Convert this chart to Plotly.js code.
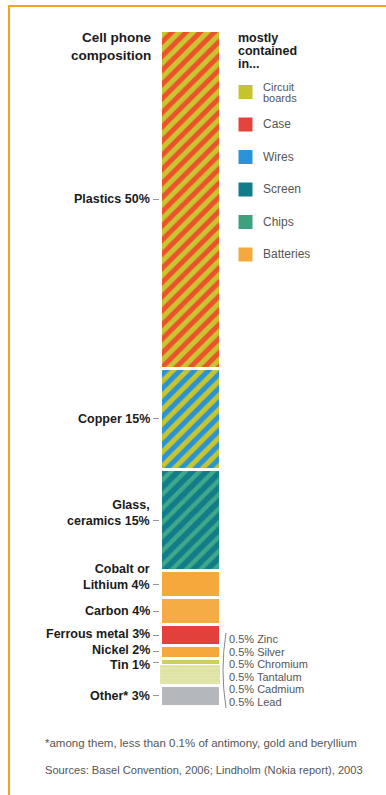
<!DOCTYPE html>
<html><head><meta charset="utf-8">
<script src="https://cdn.plot.ly/plotly-3.0.1.min.js"></script>
<style>
html,body{margin:0;padding:0;background:#fff;}
#chart{position:absolute;left:0;top:0;width:386px;height:795px;}
#frame{position:absolute;left:8px;top:5px;width:420px;height:820px;border-top:2.5px solid #f2a421;border-left:2.5px solid #f2a421;pointer-events:none;}
</style></head>
<body>
<div id="chart"></div>
<div id="frame"></div>
<script>
// ---- data ----
const segments = ['Plastics','Copper','Glass,<br>ceramics','Cobalt or<br>Lithium','Carbon','Ferrous metal','Nickel','Tin','Zinc','Silver','Chromium','Tantalum','Cadmium','Lead','Other*'];
const shares   = [50, 15, 15, 4, 4, 3, 2, 1, 0.5, 0.5, 0.5, 0.5, 0.5, 0.5, 3];
const minorMetals = ['Zinc','Silver','Chromium','Tantalum','Cadmium','Lead'];
const components = ['Circuit<br>boards','Case','Wires','Screen','Chips','Batteries'];
const titleLines = ['Cell phone','composition'];
const legendTitle = ['mostly','contained','in...'];
const footnote = '*among them, less than 0.1% of antimony, gold and beryllium';
const source = 'Sources: Basel Convention, 2006; Lindholm (Nokia report), 2003';

// ---- styles ----
const compColors = ['#c6c32f','#e3433a','#2a92d8','#107d8a','#3ca17d','#f5a93c'];
const segStyle = {
  'Plastics': {pat:['#ea532c','#c9c530',0.5]},
  'Copper': {pat:['#c6c430','#2a93d3',0.5]},
  'Glass,<br>ceramics': {pat:['#3fa88b','#127d89',0.42]},
  'Cobalt or<br>Lithium': {c:'#f5a93c'},
  'Carbon': {c:'#f6ac44'},
  'Ferrous metal': {c:'#e2413b', dy: 1},
  'Nickel': {c:'#f5a93c', dy: 2},
  'Tin': {c:'#cdd05a', dy: -3},
  'Other*': {c:'#b4b8bd'}
};
const metalColor = '#dfe3a4';

// pixel helpers (plot area: x 160..220, y 30..706)
const L=160, R=220, T=30, B=706;
const px = v => (v - L) / (R - L);
const py = v => (B - v) / (B - T);

const traces = [];
const centers = [];
let cum = 0;
segments.forEach((name, i) => {
  const v = shares[i];
  centers.push(cum + v / 2);
  cum += v;
  const isMetal = minorMetals.includes(name);
  const st = segStyle[name] || {};
  const marker = {line: {color: isMetal ? '#e8ebbf' : '#ffffff', width: isMetal ? 0.4 : 3}};
  if (st.pat) {
    marker.color = st.pat[1];
    marker.pattern = {shape: '/', fgcolor: st.pat[0], bgcolor: st.pat[1], size: 10, solidity: st.pat[2], fillmode: 'replace'};
  } else {
    marker.color = isMetal ? metalColor : st.c;
  }
  traces.push({type: 'bar', x: ['phone'], y: [v], width: [1], name: name, marker: marker, showlegend: false, hoverinfo: 'skip'});
});

const annotations = [];
const FAM = 'Liberation Sans, Arial, sans-serif';
const labelFont = {family: FAM, size: 12.5, color: '#1a1a1a'};
// left labels
segments.forEach((name, i) => {
  if (minorMetals.includes(name)) return;
  const multi = name.includes('<br>');
  const st = segStyle[name] || {};
  annotations.push({xref: 'paper', yref: 'y', x: 0, y: centers[i], xanchor: 'right', yanchor: 'middle',
    xshift: -8, yshift: (multi ? 7 : 0) + (st.dy || 0), align: 'right', showarrow: false,
    text: '<b>' + name + ' ' + shares[i] + '%</b>', font: labelFont});
});
// chart title
titleLines.forEach((t, k) => {
  annotations.push({xref: 'paper', yref: 'paper', x: px(153), y: py(38 + k * 17), xanchor: 'right', yanchor: 'middle',
    showarrow: false, text: '<b>' + t + '</b>', font: {family: FAM, size: 13.5, color: '#1a1a1a'}});
});
// legend title
legendTitle.forEach((t, k) => {
  annotations.push({xref: 'paper', yref: 'paper', x: px(236), y: py(38 + k * 13), xanchor: 'left', yanchor: 'middle',
    showarrow: false, text: '<b>' + t + '</b>', font: {family: FAM, size: 12.5, color: '#1a1a1a'}});
});
// legend items
const shapes = [];
components.forEach((c, k) => {
  const cy = 92 + k * 32.5;
  shapes.push({type: 'rect', xref: 'paper', yref: 'paper', x0: px(238.5), x1: px(252.5), y0: py(cy - 7), y1: py(cy + 7),
    fillcolor: compColors[k], line: {width: 0}});
  const parts = c.split('<br>');
  parts.forEach((p, j) => {
    const off = parts.length > 1 ? (j === 0 ? -5 : 6) : 0;
    annotations.push({xref: 'paper', yref: 'paper', x: px(261), y: py(cy + off), xanchor: 'left', yanchor: 'middle',
      showarrow: false, text: p, font: {family: FAM, size: parts.length > 1 ? 11 : 12, color: '#555'}});
  });
});
// minor metals labels
minorMetals.forEach((m, k) => {
  const v = shares[segments.indexOf(m)];
  annotations.push({xref: 'paper', yref: 'paper', x: px(227), y: py(639 + k * 12.5), xanchor: 'left', yanchor: 'middle',
    showarrow: false, text: v + '% ' + m, font: {family: FAM, size: 11, color: '#555'}});
});
// bracket
shapes.push({type: 'path', xref: 'paper', yref: 'paper',
  path: 'M ' + px(226) + ' ' + py(633) + ' Q ' + px(220) + ' ' + py(670) + ' ' + px(226) + ' ' + py(708),
  line: {color: '#888', width: 1}});
// footnotes
annotations.push({xref: 'paper', yref: 'paper', x: px(43), y: py(743), xanchor: 'left', yanchor: 'middle',
  showarrow: false, text: footnote, font: {family: FAM, size: 11.5, color: '#555'}});
annotations.push({xref: 'paper', yref: 'paper', x: px(43), y: py(770), xanchor: 'left', yanchor: 'middle',
  showarrow: false, text: source, font: {family: FAM, size: 11.1, color: '#555'}});

const layout = {
  width: 386, height: 795,
  margin: {l: L, r: 386 - R, t: T, b: 795 - B, pad: 0},
  paper_bgcolor: 'rgba(0,0,0,0)', plot_bgcolor: 'rgba(0,0,0,0)',
  barmode: 'stack', bargap: 0,
  showlegend: false,
  xaxis: {range: [-0.5, 0.5], visible: false, fixedrange: true},
  yaxis: {range: [100, 0], showgrid: false, zeroline: false, showline: false,
    tickmode: 'array', tickvals: centers.filter((c, i) => !minorMetals.includes(segments[i])),
    ticks: 'outside', ticklen: 6, tickwidth: 1, tickcolor: '#999', showticklabels: false},
  annotations: annotations,
  shapes: shapes
};
Plotly.newPlot('chart', traces, layout, {staticPlot: true, displayModeBar: false});
</script>
</body></html>
